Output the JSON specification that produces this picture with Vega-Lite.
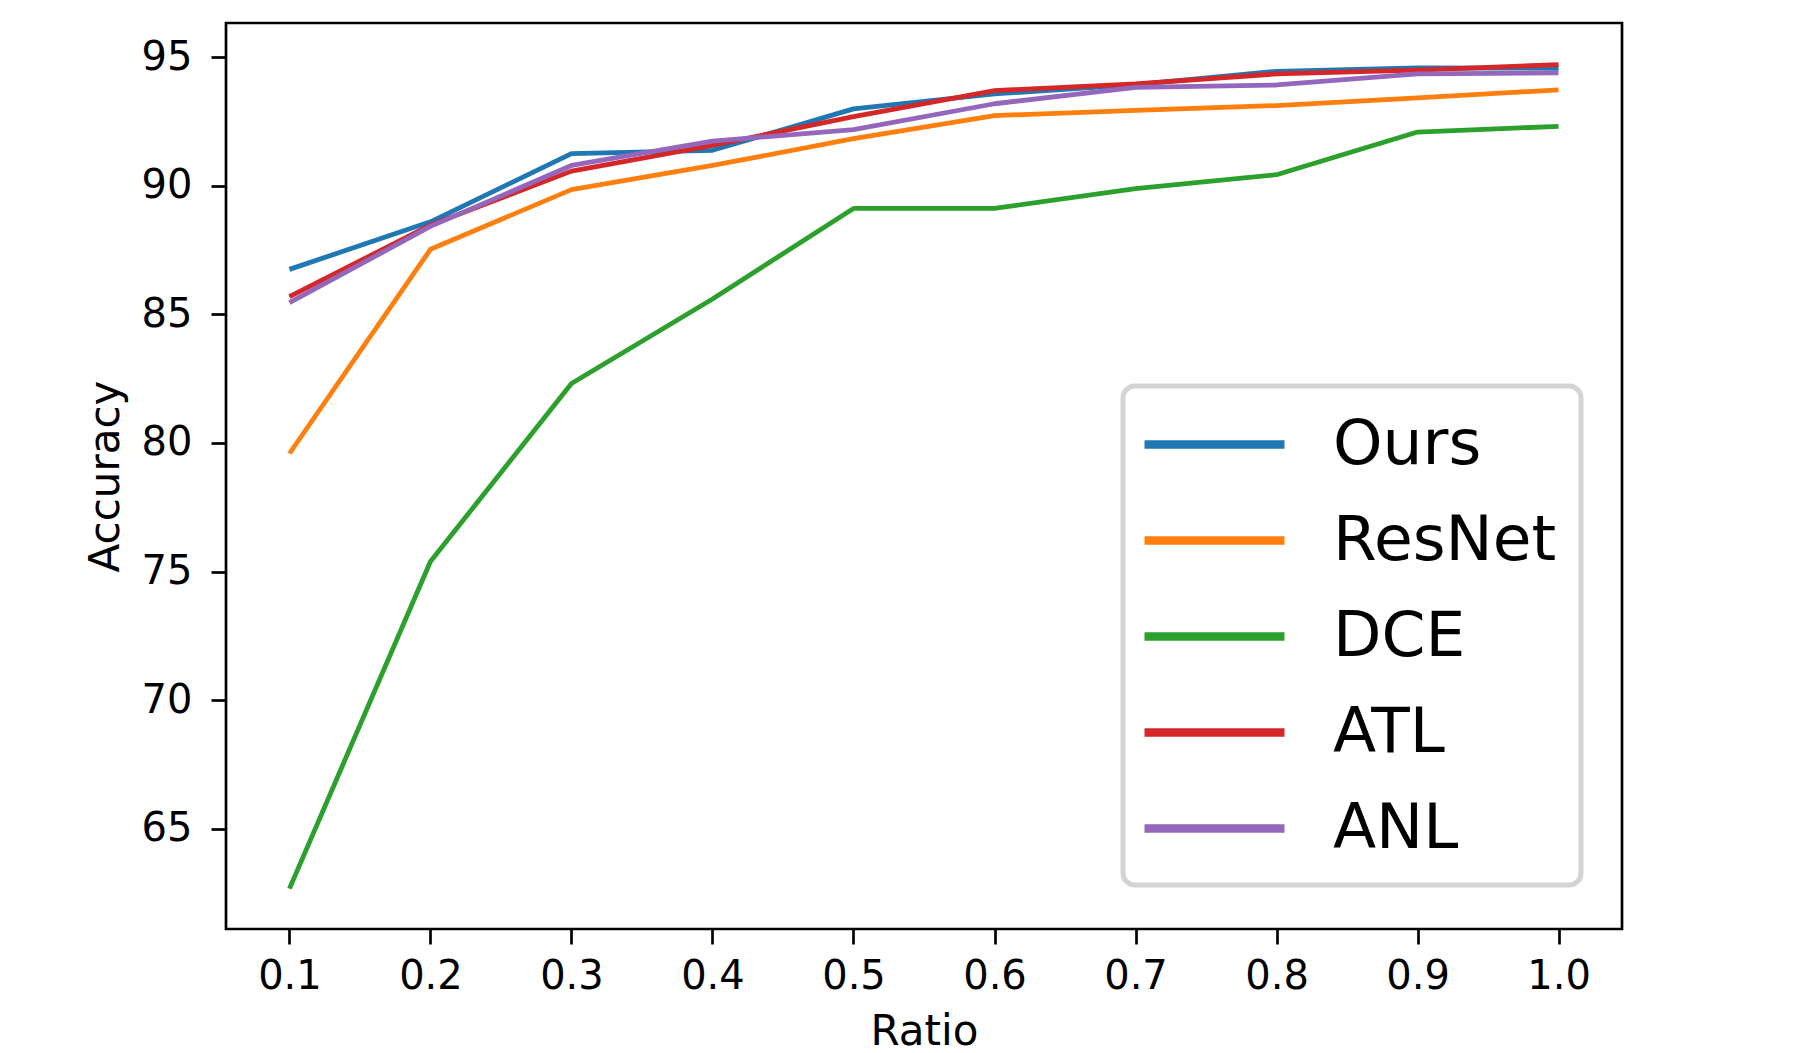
{
  "$schema": "https://vega.github.io/schema/vega-lite/v6.json",
  "width": 1396,
  "height": 906,
  "autosize": "none",
  "padding": {"left": 226, "top": 23, "right": 178, "bottom": 124},
  "background": "white",
  "config": {
    "font": "DejaVu Sans",
    "view": {"stroke": "black", "strokeWidth": 2.7},
    "axis": {
      "domain": false,
      "grid": false,
      "ticks": true,
      "tickColor": "black",
      "tickWidth": 2.7,
      "tickSize": 15,
      "labelColor": "black",
      "labelFont": "DejaVu Sans",
      "labelFontSize": 40,
      "titleColor": "black",
      "titleFont": "DejaVu Sans",
      "titleFontSize": 42,
      "titleFontWeight": "normal"
    }
  },
  "data": {
    "values": [
      {"Ratio": 0.1, "Accuracy": 86.75, "Method": "Ours"},
      {"Ratio": 0.2, "Accuracy": 88.60, "Method": "Ours"},
      {"Ratio": 0.3, "Accuracy": 91.25, "Method": "Ours"},
      {"Ratio": 0.4, "Accuracy": 91.38, "Method": "Ours"},
      {"Ratio": 0.5, "Accuracy": 92.99, "Method": "Ours"},
      {"Ratio": 0.6, "Accuracy": 93.57, "Method": "Ours"},
      {"Ratio": 0.7, "Accuracy": 93.93, "Method": "Ours"},
      {"Ratio": 0.8, "Accuracy": 94.45, "Method": "Ours"},
      {"Ratio": 0.9, "Accuracy": 94.58, "Method": "Ours"},
      {"Ratio": 1.0, "Accuracy": 94.57, "Method": "Ours"},
      {"Ratio": 0.1, "Accuracy": 79.59, "Method": "ResNet"},
      {"Ratio": 0.2, "Accuracy": 87.53, "Method": "ResNet"},
      {"Ratio": 0.3, "Accuracy": 89.85, "Method": "ResNet"},
      {"Ratio": 0.4, "Accuracy": 90.79, "Method": "ResNet"},
      {"Ratio": 0.5, "Accuracy": 91.83, "Method": "ResNet"},
      {"Ratio": 0.6, "Accuracy": 92.73, "Method": "ResNet"},
      {"Ratio": 0.7, "Accuracy": 92.93, "Method": "ResNet"},
      {"Ratio": 0.8, "Accuracy": 93.12, "Method": "ResNet"},
      {"Ratio": 0.9, "Accuracy": 93.42, "Method": "ResNet"},
      {"Ratio": 1.0, "Accuracy": 93.73, "Method": "ResNet"},
      {"Ratio": 0.1, "Accuracy": 62.67, "Method": "DCE"},
      {"Ratio": 0.2, "Accuracy": 75.39, "Method": "DCE"},
      {"Ratio": 0.3, "Accuracy": 82.31, "Method": "DCE"},
      {"Ratio": 0.4, "Accuracy": 85.60, "Method": "DCE"},
      {"Ratio": 0.5, "Accuracy": 89.12, "Method": "DCE"},
      {"Ratio": 0.6, "Accuracy": 89.12, "Method": "DCE"},
      {"Ratio": 0.7, "Accuracy": 89.89, "Method": "DCE"},
      {"Ratio": 0.8, "Accuracy": 90.43, "Method": "DCE"},
      {"Ratio": 0.9, "Accuracy": 92.09, "Method": "DCE"},
      {"Ratio": 1.0, "Accuracy": 92.31, "Method": "DCE"},
      {"Ratio": 0.1, "Accuracy": 85.69, "Method": "ATL"},
      {"Ratio": 0.2, "Accuracy": 88.47, "Method": "ATL"},
      {"Ratio": 0.3, "Accuracy": 90.57, "Method": "ATL"},
      {"Ratio": 0.4, "Accuracy": 91.57, "Method": "ATL"},
      {"Ratio": 0.5, "Accuracy": 92.69, "Method": "ATL"},
      {"Ratio": 0.6, "Accuracy": 93.70, "Method": "ATL"},
      {"Ratio": 0.7, "Accuracy": 93.96, "Method": "ATL"},
      {"Ratio": 0.8, "Accuracy": 94.35, "Method": "ATL"},
      {"Ratio": 0.9, "Accuracy": 94.50, "Method": "ATL"},
      {"Ratio": 1.0, "Accuracy": 94.71, "Method": "ATL"},
      {"Ratio": 0.1, "Accuracy": 85.46, "Method": "ANL"},
      {"Ratio": 0.2, "Accuracy": 88.42, "Method": "ANL"},
      {"Ratio": 0.3, "Accuracy": 90.79, "Method": "ANL"},
      {"Ratio": 0.4, "Accuracy": 91.74, "Method": "ANL"},
      {"Ratio": 0.5, "Accuracy": 92.18, "Method": "ANL"},
      {"Ratio": 0.6, "Accuracy": 93.19, "Method": "ANL"},
      {"Ratio": 0.7, "Accuracy": 93.83, "Method": "ANL"},
      {"Ratio": 0.8, "Accuracy": 93.92, "Method": "ANL"},
      {"Ratio": 0.9, "Accuracy": 94.35, "Method": "ANL"},
      {"Ratio": 1.0, "Accuracy": 94.39, "Method": "ANL"}
    ]
  },
  "mark": {"type": "line", "strokeWidth": 4.8, "strokeCap": "butt", "strokeJoin": "round", "clip": true},
  "encoding": {
    "x": {
      "field": "Ratio",
      "type": "quantitative",
      "scale": {"domain": [0.055, 1.045], "nice": false, "zero": false},
      "axis": {
        "values": [0.1, 0.2, 0.3, 0.4, 0.5, 0.6, 0.7, 0.8, 0.9, 1.0],
        "format": ".1f",
        "labelPadding": 12,
        "titlePadding": 15
      },
      "title": "Ratio"
    },
    "y": {
      "field": "Accuracy",
      "type": "quantitative",
      "scale": {"domain": [61.1, 96.33], "nice": false, "zero": false},
      "axis": {
        "values": [65, 70, 75, 80, 85, 90, 95],
        "labelPadding": 19,
        "titlePadding": 14
      },
      "title": "Accuracy"
    },
    "color": {
      "field": "Method",
      "type": "nominal",
      "sort": ["Ours", "ResNet", "DCE", "ATL", "ANL"],
      "scale": {
        "domain": ["Ours", "ResNet", "DCE", "ATL", "ANL"],
        "range": ["#1f77b4", "#ff7f0e", "#2ca02c", "#d62728", "#9467bd"]
      },
      "legend": {
        "title": null,
        "orient": "none",
        "legendX": 897,
        "legendY": 363,
        "symbolType": "M-2.333,0H2.333",
        "symbolSize": 3600,
        "symbolStrokeWidth": 8.5,
        "symbolOffset": 33,
        "labelFont": "DejaVu Sans",
        "labelFontSize": 63,
        "labelColor": "black",
        "labelLimit": 0,
        "labelOffset": 84,
        "rowPadding": 29,
        "padding": 24,
        "strokeColor": "#d4d4d4",
        "cornerRadius": 12,
        "fillColor": "white",
        "encode": {"legend": {"update": {"strokeWidth": {"value": 5}}}}
      }
    },
    "order": {"field": "Ratio", "type": "quantitative"}
  }
}
